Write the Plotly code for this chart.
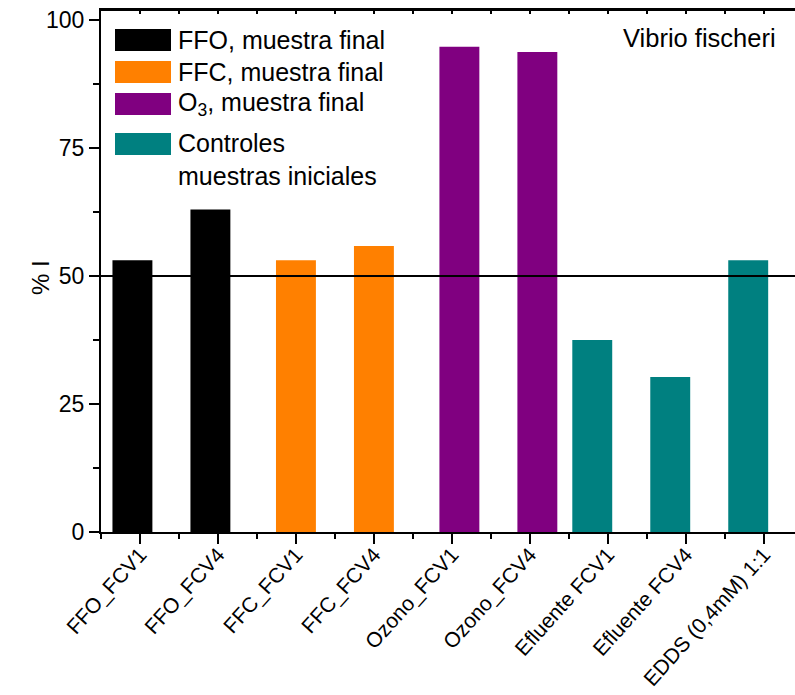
import plotly.graph_objects as go

# ---- data ----
categories = ["FFO_FCV1", "FFO_FCV4", "FFC_FCV1", "FFC_FCV4", "Ozono_FCV1",
              "Ozono_FCV4", "Efluente FCV1", "Efluente FCV4", "EDDS (0,4mM) 1:1"]
series_names = ["FFO, muestra final", "FFC, muestra final",
                "O<sub>3</sub>, muestra final", "Controles<br>muestras iniciales"]
ffo_cats = ["FFO_FCV1", "FFO_FCV4"]
ffo_vals = [53.1, 63.0]
ffc_cats = ["FFC_FCV1", "FFC_FCV4"]
ffc_vals = [53.1, 55.9]
o3_cats = ["Ozono_FCV1", "Ozono_FCV4"]
o3_vals = [94.8, 93.8]
ctrl_cats = ["Efluente FCV1", "Efluente FCV4", "EDDS (0,4mM) 1:1"]
ctrl_vals = [37.5, 30.3, 53.1]
y_ticks = [0, 25, 50, 75, 100]
threshold = 50
species = "Vibrio fischeri"
y_title = "% I"

# ---- style ----
colors = ["#000000", "#FF8000", "#800080", "#008080"]
offsets = [-0.353, -0.256, -0.160, -0.456]
bar_w = 0.512
FONT = "Liberation Sans, Arial, sans-serif"
W, H = 795, 695
ML, MR, MT, MB = 101, 0, 10, 163
PW, PH = W - ML - MR, H - MT - MB
XR = [-0.5, 8.4]
YR = [0, 102.0]

fig = go.Figure()
for cats, vals, col, off in zip([ffo_cats, ffc_cats, o3_cats, ctrl_cats],
                                [ffo_vals, ffc_vals, o3_vals, ctrl_vals],
                                colors, offsets):
    fig.add_trace(go.Bar(x=cats, y=vals, marker=dict(color=col, line=dict(width=0)),
                         width=bar_w, offset=off, showlegend=False))

# helper traces to instantiate the overlay axes
fig.add_trace(go.Scatter(x=[], y=[], xaxis="x2", yaxis="y", showlegend=False))
fig.add_trace(go.Scatter(x=[], y=[], xaxis="x3", yaxis="y", showlegend=False))

fig.update_layout(
    width=W, height=H,
    margin=dict(l=ML, r=MR, t=MT, b=MB, autoexpand=False),
    plot_bgcolor="white", paper_bgcolor="white",
    barmode="overlay",
    font=dict(family=FONT, size=21, color="black"),
    xaxis=dict(type="category", categoryorder="array", categoryarray=categories,
               range=XR, showline=True, linecolor="black", linewidth=2,
               ticks="outside", ticklen=10, tickwidth=2, tickcolor="black",
               tickangle=-48, tickfont=dict(size=21), ticklabelstandoff=-10,
               ticklabeloverflow="allow",
               showgrid=False, zeroline=False, automargin=False),
    xaxis2=dict(overlaying="x", side="top", anchor="y", range=XR, type="linear",
                showline=True, linecolor="black", linewidth=2,
                ticks="inside", ticklen=4, tickwidth=1.5, tickcolor="black",
                tick0=-0.5, dtick=0.5, showticklabels=False, showgrid=False, zeroline=False,
                automargin=False),
    xaxis3=dict(overlaying="x", side="bottom", anchor="y", range=XR, type="linear",
                showline=False, ticks="outside", ticklen=6, tickwidth=2, tickcolor="black",
                tick0=-0.5, dtick=1, showticklabels=False, showgrid=False, zeroline=False,
                automargin=False),
    yaxis=dict(range=YR, tickvals=y_ticks, showline=True, linecolor="black",
               linewidth=2, ticks="outside", ticklen=10, tickwidth=2, tickcolor="black",
               tickfont=dict(size=23), ticklabeloverflow="allow",
               minor=dict(tick0=0, dtick=12.5, ticks="outside", ticklen=6, tickwidth=2,
                          tickcolor="black"),
               showgrid=False, zeroline=False, automargin=False),
)

fig.add_shape(type="line", xref="paper", yref="y", x0=0, x1=1, y0=threshold, y1=threshold,
              line=dict(color="black", width=2), layer="above")
# top frame line (redundant with the top axis line, for robustness)
fig.add_shape(type="line", xref="paper", yref="paper", x0=-1.5 / PW, x1=1, y0=1, y1=1,
              line=dict(color="black", width=2), layer="above")


# screen-pixel -> paper coordinates
def px_x(px):
    return (px - ML) / PW


def px_y(py):
    return (MT + PH - py) / PH


fig.add_annotation(text=species, xref="paper", yref="paper",
                   x=px_x(778), y=px_y(38),
                   xanchor="right", yanchor="middle", showarrow=False,
                   font=dict(size=25.5))

fig.add_annotation(text=y_title, xref="paper", yref="paper", textangle=-90,
                   x=px_x(40), y=px_y(278), xanchor="center", yanchor="middle",
                   showarrow=False, font=dict(size=24))

# ---- manual legend ----
row_y = [40, 72, 104, 144]
for name, col, cy in zip(series_names, colors, row_y):
    fig.add_shape(type="rect", xref="paper", yref="paper",
                  x0=px_x(115), x1=px_x(171), y0=px_y(cy + 11), y1=px_y(cy - 11),
                  fillcolor=col, line=dict(width=0))
    if "<br>" in name:
        fig.add_annotation(text=name, xref="paper", yref="paper", x=px_x(176),
                           y=px_y(cy - 17), xanchor="left", yanchor="top",
                           align="left", showarrow=False, font=dict(size=25))
    else:
        fig.add_annotation(text=name, xref="paper", yref="paper", x=px_x(176),
                           y=px_y(cy), xanchor="left", yanchor="middle",
                           align="left", showarrow=False, font=dict(size=25))

# remove the default 8px page margin so the figure sits at the window origin
fig.write_html("out.html",
               config={"displayModeBar": False},
               post_script="document.body.style.margin='0px';"
                           "document.body.style.overflow='hidden';")
